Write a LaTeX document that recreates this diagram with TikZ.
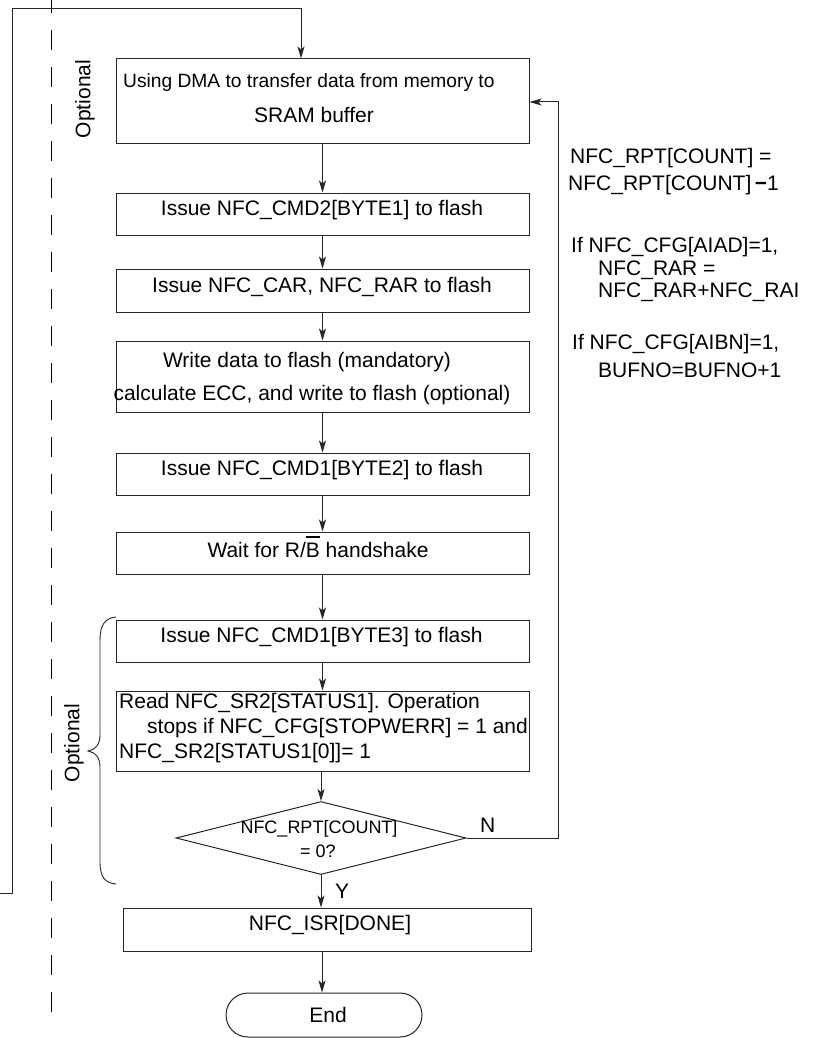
\documentclass[tikz,border=0pt]{standalone}
\usepackage{fontspec}
\setmainfont{Liberation Sans}
\usetikzlibrary{arrows.meta,shapes.geometric}
\begin{document}
\begin{tikzpicture}[x=1pt,y=-1pt,
  ln/.style={line width=1pt,draw=black!85},
  arr/.style={ln,-{Stealth[length=12pt,width=7pt,inset=3pt]}},
  box/.style={ln,rectangle,inner sep=0pt,minimum width=413pt},
  txt/.style={font=\fontsize{21}{25}\selectfont,inner sep=0pt},
  small/.style={font=\fontsize{18}{22}\selectfont,inner sep=0pt}]
\useasboundingbox (0,0) rectangle (824,1038);

% dashed separator
\draw[line width=1pt,dash pattern=on 20pt off 17pt,dash phase=7pt] (51,0) -- (51,1013);

% boxes
\node[box,minimum height=84pt] (b1) at (322.5,101) {};
\node[box,minimum height=42pt] (b2) at (322.5,214) {};
\node[box,minimum height=43pt] (b3) at (322.5,290.5) {};
\node[box,minimum height=71pt] (b4) at (322.5,376.5) {};
\node[box,minimum height=42pt] (b5) at (322.5,474) {};
\node[box,minimum height=42pt] (b6) at (322.5,553) {};
\node[box,minimum height=42pt] (b7) at (322.5,641) {};
\node[box,minimum height=80pt] (b8) at (322.5,731) {};
\node[ln,diamond,inner sep=0pt,minimum width=290pt,minimum height=73pt] (dia) at (321,838) {};
\node[box,minimum width=408pt,minimum height=43pt] (b9) at (327,929.5) {};
\node[ln,rectangle,rounded corners=22pt,minimum width=196pt,minimum height=44pt,inner sep=0pt] (end) at (324,1015) {};

% box texts
\node[inner sep=0pt,font=\fontsize{19.2}{23}\selectfont,anchor=base west] (t1a) at (123,88) {Using DMA to transfer data from memory to};
\node[txt,anchor=base] (t1b) at (314,122) {SRAM buffer};
\node[txt,anchor=base] (t2) at (322,215) {Issue NFC\_CMD2[BYTE1] to flash};
\node[txt,anchor=base] (t3) at (322,292) {Issue NFC\_CAR, NFC\_RAR to flash};
\node[txt,anchor=base] (t4a) at (307,367) {Write data to flash (mandatory)};
\node[txt,anchor=base] (t4b) at (312,400) {calculate ECC, and write to flash (optional)};
\node[txt,anchor=base] (t5) at (322,475) {Issue NFC\_CMD1[BYTE2] to flash};
\node[txt,anchor=base] (t6) at (318,557) {Wait for R/\rlap{\rule[19pt]{14pt}{1.8pt}}B handshake};
\node[txt,anchor=base] (t7) at (321.5,642) {Issue NFC\_CMD1[BYTE3] to flash};
\node[txt,anchor=base west] (t8a) at (119,708) {Read NFC\_SR2[STATUS1]. Operation};
\node[txt,anchor=base west] (t8b) at (147,733) {stops if NFC\_CFG[STOPWERR] = 1 and};
\node[txt,anchor=base west] (t8c) at (119,758) {NFC\_SR2[STATUS1[0]]= 1};
\node[small,anchor=base] (td1) at (319,833) {NFC\_RPT[COUNT]};
\node[small,anchor=base] (td2) at (318,857) {= 0?};
\node[txt,anchor=base] (t9) at (330,930) {NFC\_ISR[DONE]};
\node[txt,anchor=base] (tend) at (328,1022) {End};
\node[txt,anchor=base west] (ly) at (335,898) {Y};
\node[txt,anchor=base west] (lnn) at (480,832) {N};

% side notes
\node[txt,anchor=base west] (r1) at (570,163) {NFC\_RPT[COUNT] =};
\node[txt,anchor=base west] (r2) at (568,190) {NFC\_RPT[COUNT]\,\textbf{−}1};
\node[txt,anchor=base west] (r3) at (571,252) {If NFC\_CFG[AIAD]=1,};
\node[txt,anchor=base west] (r4) at (598,275) {NFC\_RAR =};
\node[txt,anchor=base west] (r5) at (598,297) {NFC\_RAR+NFC\_RAI};
\node[txt,anchor=base west] (r6) at (572,349) {If NFC\_CFG[AIBN]=1,};
\node[txt,anchor=base west] (r7) at (598,377) {BUFNO=BUFNO+1};

% optional labels
\node[txt,rotate=90] (o1) at (85,99) {Optional};
\node[txt,rotate=90] (o2) at (74,743) {Optional};
\draw[ln,line width=0.9pt] (116,617) .. controls (105,618) and (100,625) .. (100,640) -- (100,735)
  .. controls (100,745) and (95,750) .. (88,751)
  .. controls (95,752) and (100,757) .. (100,767) -- (100,862)
  .. controls (100,877) and (105,883) .. (116,884);

% connectors
\coordinate (cx) at (322,0);
\draw[arr] (b1.south) -- (b2.north);
\draw[arr] (b2.south) -- (b3.north);
\draw[arr] (b3.south) -- (b4.north);
\draw[arr] (b4.south) -- (b5.north);
\draw[arr] (b5.south) -- (b6.north);
\draw[arr] (b6.south) -- (b7.north);
\draw[arr] (b7.south) -- (b8.north);
\draw[arr] (dia.north |- b8.south) -- (dia.north);
\draw[arr] (dia.south) -- (dia.south |- b9.north);
\draw[arr] (b9.south -| cx) -- (end.north -| cx);

% loop back (N)
\coordinate (nr) at (558,102);
\draw[arr] (dia.east) -- (dia.east -| nr) -- (nr) -- (nr -| b1.east);

% outer loop
\coordinate (loopin) at (0,893);
\coordinate (lc) at (12,893);
\coordinate (lt) at (12,9);
\coordinate (lx) at (301,9);
\draw[arr] (loopin) -- (lc) -- (lt) -- (lx) -- (lx |- b1.north);
\end{tikzpicture}
\end{document}
